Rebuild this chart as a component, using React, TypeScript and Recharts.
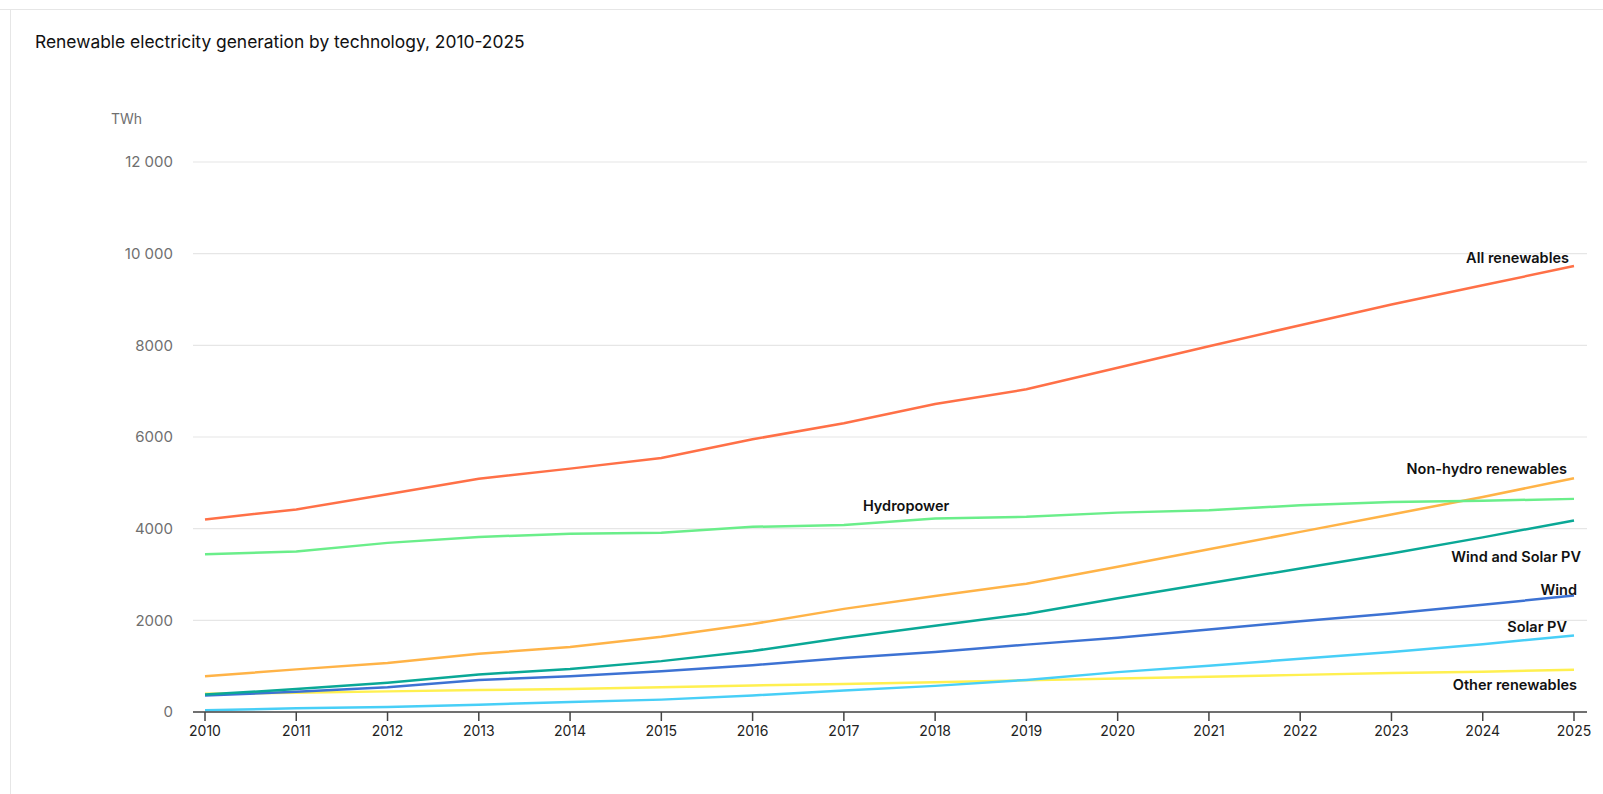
import React from "react";
import { CartesianGrid, Line, LineChart, XAxis, YAxis } from "recharts";

const years = [2010, 2011, 2012, 2013, 2014, 2015, 2016, 2017, 2018, 2019, 2020, 2021, 2022, 2023, 2024, 2025];

const allRenewables = [4200, 4420, 4750, 5090, 5310, 5540, 5950, 6300, 6720, 7040, 7510, 7980, 8440, 8890, 9310, 9730];
const hydropower = [3440, 3500, 3690, 3820, 3890, 3910, 4040, 4080, 4220, 4260, 4350, 4400, 4510, 4580, 4610, 4650];
const nonHydro = [780, 930, 1070, 1270, 1420, 1640, 1920, 2250, 2530, 2800, 3170, 3550, 3930, 4310, 4690, 5100];
const windSolar = [380, 500, 640, 820, 940, 1110, 1330, 1620, 1880, 2140, 2480, 2810, 3130, 3460, 3810, 4180];
const wind = [360, 440, 540, 700, 780, 890, 1020, 1180, 1310, 1470, 1620, 1800, 1980, 2150, 2340, 2540];
const solarPv = [40, 80, 110, 160, 220, 270, 360, 470, 570, 700, 870, 1010, 1160, 1310, 1480, 1670];
const otherRenewables = [400, 420, 450, 480, 500, 540, 580, 610, 650, 690, 730, 770, 810, 850, 880, 920];

const yTicks = [0, 2000, 4000, 6000, 8000, 10000, 12000];

const data = years.map((year, i) => ({
  year,
  all: allRenewables[i],
  hydro: hydropower[i],
  nonHydro: nonHydro[i],
  windSolar: windSolar[i],
  wind: wind[i],
  solar: solarPv[i],
  other: otherRenewables[i],
}));

const FONT = "Inter, 'Noto Sans', sans-serif";

// label drawn once, next to a single point of the series
const pointLabel = (text: string, atIndex: number, dx: number, dy: number, anchor: "start" | "middle" | "end") =>
  (props: any) => {
    if (props.index !== atIndex) return <g key={`l-${text}-${props.index}`} />;
    return (
      <text
        key={`l-${text}`}
        x={props.x + dx}
        y={props.y + dy}
        textAnchor={anchor}
        fontFamily={FONT}
        fontWeight={600}
        fontSize={14.5}
        fill="#111"
      >
        {text}
      </text>
    );
  };

const fmt = (v: number) => (v >= 10000 ? `${Math.floor(v / 1000)} ${String(v % 1000).padStart(3, "0")}` : String(v));

export default function App() {
  const last = years.length - 1;
  return (
    <div style={{ position: "absolute", left: 0, top: 0, width: 1603, height: 794, background: "#fff", fontFamily: FONT }}>
      <div style={{ position: "absolute", left: 0, top: 9, width: 1603, height: 1, background: "#e6e6e6" }} />
      <div style={{ position: "absolute", left: 10, top: 9, width: 1, height: 785, background: "#e6e6e6" }} />
      <div style={{ position: "absolute", left: 35, top: 31, fontSize: 17.4, color: "#111", whiteSpace: "nowrap" }}>
        Renewable electricity generation by technology, 2010-2025
      </div>
      <div style={{ position: "absolute", left: 111, top: 110, fontSize: 14, color: "#6f6f6f" }}>TWh</div>
      <div style={{ position: "absolute", left: 0, top: 0 }}>
        <LineChart width={1603} height={794} data={data} margin={{ top: 162, right: 16, left: 113, bottom: 0 }}>
          <CartesianGrid horizontal vertical={false} stroke="#e6e6e6" strokeWidth={1.2} />
          <XAxis
            dataKey="year"
            type="number"
            domain={[2010, 2025]}
            ticks={years}
            padding={{ left: 12, right: 13 }}
            height={82}
            tickSize={9}
            tickMargin={5}
            axisLine={{ stroke: "#444", strokeWidth: 1.5 }}
            tickLine={{ stroke: "#444", strokeWidth: 1.5 }}
            tick={{ fill: "#222", fontSize: 14, fontFamily: FONT }}
            interval={0}
          />
          <YAxis
            width={80}
            domain={[0, 12000]}
            ticks={yTicks}
            tickFormatter={fmt}
            axisLine={false}
            tickLine={false}
            tickSize={0}
            tickMargin={20}
            tick={{ fill: "#6f6f6f", fontSize: 15, fontFamily: FONT }}
          />
          <Line dataKey="other" stroke="#fff050" strokeWidth={2.5} dot={false} isAnimationActive={false}
            label={pointLabel("Other renewables", last, 3, 20, "end")} />
          <Line dataKey="solar" stroke="#48cff7" strokeWidth={2.5} dot={false} isAnimationActive={false}
            label={pointLabel("Solar PV", last, -7, -3, "end")} />
          <Line dataKey="wind" stroke="#3d72d3" strokeWidth={2.5} dot={false} isAnimationActive={false}
            label={pointLabel("Wind", last, 3, -1, "end")} />
          <Line dataKey="windSolar" stroke="#0aa896" strokeWidth={2.5} dot={false} isAnimationActive={false}
            label={pointLabel("Wind and Solar PV", last, 7, 42, "end")} />
          <Line dataKey="nonHydro" stroke="#ffb347" strokeWidth={2.5} dot={false} isAnimationActive={false}
            label={pointLabel("Non-hydro renewables", last, -7, -4, "end")} />
          <Line dataKey="hydro" stroke="#6aee8a" strokeWidth={2.5} dot={false} isAnimationActive={false}
            label={pointLabel("Hydropower", 8, -29, -8, "middle")} />
          <Line dataKey="all" stroke="#ff7047" strokeWidth={2.5} dot={false} isAnimationActive={false}
            label={pointLabel("All renewables", last, -5, -3, "end")} />
        </LineChart>
      </div>
    </div>
  );
}
